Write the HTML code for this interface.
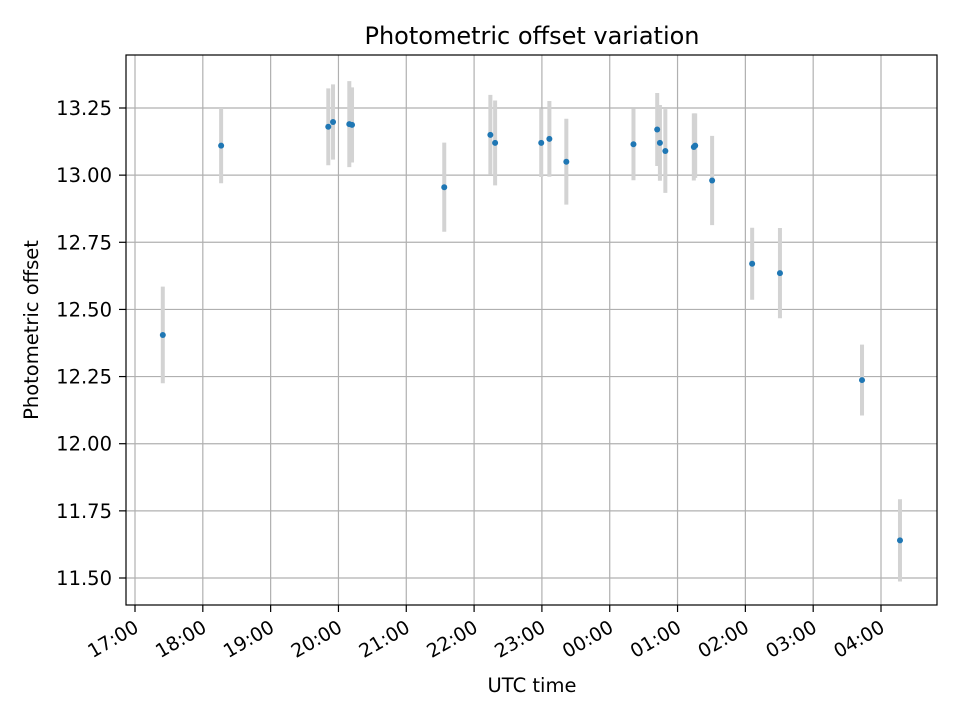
<!DOCTYPE html>
<html><head><meta charset="utf-8"><style>
body{margin:0;background:#fff;}
svg text{font-family:"DejaVu Sans","Liberation Sans",sans-serif;fill:#000;}
</style></head><body>
<svg id="chart" width="960" height="720" xmlns="http://www.w3.org/2000/svg">
<rect width="960" height="720" fill="#fff"/>
<g id="grid"></g>
<g id="bars"></g>
<g id="pts"></g>
<rect x="126" y="55" width="811" height="550" fill="none" stroke="#000" stroke-width="1.2"/>
<g id="axes"></g>
<text x="532" y="44" font-size="24" text-anchor="middle">Photometric offset variation</text>
<text x="532" y="692" font-size="19.5" text-anchor="middle">UTC time</text>
<text transform="translate(38,330) rotate(-90)" font-size="19.5" text-anchor="middle">Photometric offset</text>
</svg>
<script>
// hours since 17:00 UTC
const times=[0.41,1.27,2.85,2.92,3.16,3.2,4.56,5.24,5.31,5.99,6.11,6.36,7.35,7.7,7.74,7.82,8.24,8.26,8.51,9.1,9.51,10.72,11.28];
const values=[12.405,13.11,13.18,13.198,13.19,13.187,12.955,13.15,13.12,13.12,13.135,13.05,13.115,13.17,13.12,13.09,13.105,13.11,12.98,12.67,12.635,12.237,11.64];
const errors=[0.18,0.14,0.143,0.14,0.16,0.14,0.166,0.149,0.158,0.127,0.141,0.16,0.134,0.136,0.141,0.156,0.125,0.12,0.166,0.134,0.168,0.132,0.153];
const yTicks=[11.5,11.75,12.0,12.25,12.5,12.75,13.0,13.25];
const xTickLabels=["17:00","18:00","19:00","20:00","21:00","22:00","23:00","00:00","01:00","02:00","03:00","04:00"];

const NS="http://www.w3.org/2000/svg";
const X=h=>135+h*(881-135)/11;
const Y=v=>108+(13.25-v)*(578-108)/1.75;
function mk(tag,attrs,parent,txt){const e=document.createElementNS(NS,tag);for(const k in attrs)e.setAttribute(k,attrs[k]);if(txt!==undefined)e.textContent=txt;parent.appendChild(e);return e;}
const grid=document.getElementById('grid'),axes=document.getElementById('axes'),bars=document.getElementById('bars'),pts=document.getElementById('pts');
yTicks.forEach(v=>{
  const y=Y(v);
  const g=mk('line',{x1:126,x2:937,y1:y,y2:y,stroke:'#b0b0b0','stroke-width':1.2},grid);
  
  
  const t=mk('line',{x1:119,x2:126,y1:y,y2:y,stroke:'#000','stroke-width':1.2},axes);
  
  
  const l=mk('text',{x:112,y:y+7,'font-size':19.5,'text-anchor':'end'},axes,v.toFixed(2));
  
  
});
xTickLabels.forEach((s,i)=>{
  const x=X(i);
  const g=mk('line',{x1:x,x2:x,y1:55,y2:605,stroke:'#b0b0b0','stroke-width':1.2},grid);
  
  
  const t=mk('line',{x1:x,x2:x,y1:605,y2:612,stroke:'#000','stroke-width':1.2},axes);
  
  
  const l=mk('text',{transform:`translate(${x+5},${631}) rotate(-30)`,'font-size':19,'text-anchor':'end'},axes,s);
  
  
});
times.forEach((h,i)=>{
  const x=X(h);
  const b=mk('line',{x1:x,x2:x,y1:Y(values[i]+errors[i]),y2:Y(values[i]-errors[i]),stroke:'#d3d3d3','stroke-width':4},bars);
  
  
});
times.forEach((h,i)=>{
  const p=mk('circle',{cx:X(h),cy:Y(values[i]),r:3,fill:'#1f77b4'},pts);
  
  
});
</script>
</body></html>
